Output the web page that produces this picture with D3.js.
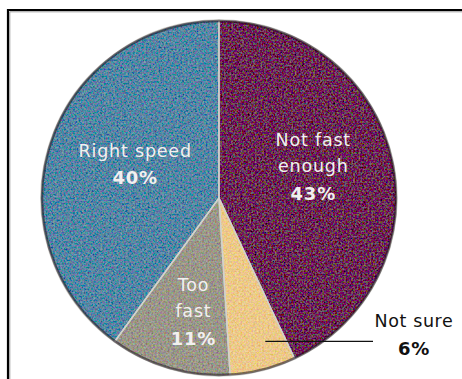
<!DOCTYPE html>
<html>
<head>
<meta charset="utf-8">
<script src="https://cdn.jsdelivr.net/npm/d3@7/dist/d3.min.js"></script>
<style>
  html, body { margin: 0; padding: 0; background: #fff; }
  svg { display: block; }
</style>
</head>
<body>
<svg id="chart" width="462" height="379"></svg>
<script>
// Survey answers, clockwise from 12 o'clock
const categories = ["Not fast enough", "Not sure", "Too fast", "Right speed"];
const values = [43, 6, 11, 40];
const labelLines = [["Not fast", "enough"], ["Not sure"], ["Too", "fast"], ["Right speed"]];
const sliceColors = ["#6e2a5a", "#ecc98a", "#9b978a", "#5886a4"];

const svg = d3.select("#chart");
const W = 462, H = 379;
const cx = 219, cy = 198, R = 178;

// Grain texture applied over the slice fills
const defs = svg.append("defs");
const grain = defs.append("filter").attr("id", "grain")
  .attr("x", 0).attr("y", 0).attr("width", 1).attr("height", 1);
grain.append("feTurbulence").attr("type", "fractalNoise")
  .attr("baseFrequency", 0.55).attr("numOctaves", 2).attr("seed", 7).attr("result", "noise");
grain.append("feColorMatrix").attr("in", "noise").attr("type", "matrix")
  .attr("values", "1 0 0 0 0  0 1 0 0 0  0 0 1 0 0  0 0 0 0 1").attr("result", "noiseRGB");
grain.append("feComposite").attr("in", "SourceGraphic").attr("in2", "noiseRGB")
  .attr("operator", "arithmetic").attr("k1", 0).attr("k2", 1).attr("k3", 0.55).attr("k4", -0.275)
  .attr("result", "mixed");
grain.append("feComposite").attr("in", "mixed").attr("in2", "SourceGraphic").attr("operator", "in");

// Frame along the top and left edges
const frame = svg.append("g");
frame.append("path").attr("d", `M8,${H} V10 H${W}`)
  .attr("fill", "none").attr("stroke", "#000").attr("stroke-width", 2.2);
frame.append("path").attr("d", `M9.8,${H} V11.8 H${W}`)
  .attr("fill", "none").attr("stroke", "#999").attr("stroke-width", 1);

const pie = d3.pie().sort(null).value(d => d)(values);
const arc = d3.arc().innerRadius(0).outerRadius(R);

const g = svg.append("g").attr("transform", `translate(${cx},${cy})`);

// Slices
g.append("g").attr("filter", "url(#grain)")
  .selectAll("path").data(pie).join("path")
  .attr("d", arc)
  .attr("fill", (d, i) => sliceColors[i]);

// Slice edges
g.append("g").selectAll("path").data(pie).join("path")
  .attr("d", arc)
  .attr("fill", "none")
  .attr("stroke", "#d2d2cc")
  .attr("stroke-width", 1.4)
  .attr("stroke-linejoin", "round");

// Darker rim around the disc
g.append("circle").attr("r", R - 1)
  .attr("fill", "none").attr("stroke", "rgba(30,20,30,0.55)").attr("stroke-width", 2.5);

// Inside labels: placed along each slice's mid-angle
const labelRadius = [0.56, 0, 0.65, 0.51];
const angleShift = [-0.11, 0, -0.06, 0.08];
const font = "'DejaVu Sans', Verdana, sans-serif";
const nameSize = 17.5, pctSize = 18;

pie.forEach((d, i) => {
  if (i === 1) return;
  const a = (d.startAngle + d.endAngle) / 2 + angleShift[i];
  const r = R * labelRadius[i];
  const x = Math.sin(a) * r, y = -Math.cos(a) * r;
  const lines = labelLines[i];
  const step = 25.5;
  const total = lines.length + 1;
  const y0 = y - (total - 1) * step / 2;
  const t = g.append("text").attr("text-anchor", "middle")
    .attr("font-family", font).attr("fill", "#f2f0f0")
    .attr("letter-spacing", 0.8);
  lines.forEach((ln, k) => {
    t.append("tspan").attr("x", x).attr("y", y0 + k * step)
      .attr("dy", "0.35em").attr("font-size", nameSize).text(ln);
  });
  t.append("tspan").attr("x", x).attr("y", y0 + lines.length * step + 2)
    .attr("dy", "0.35em").attr("font-size", pctSize).attr("font-weight", "bold")
    .text(values[i] + "%");
});

// Outside label for the small slice with a leader line
{
  const d = pie[1];
  const a = (d.startAngle + d.endAngle) / 2;
  const r = R * 0.82;
  const x0 = Math.sin(a) * r + 16, y0 = -Math.cos(a) * r;
  const lx = 373 - cx;
  g.append("line").attr("x1", x0 - 6).attr("y1", y0 + 2).attr("x2", lx).attr("y2", y0 + 2)
    .attr("stroke", "#111").attr("stroke-width", 1.4);
  const tx = 414 - cx;
  const t = g.append("text").attr("text-anchor", "middle")
    .attr("font-family", font).attr("fill", "#111").attr("letter-spacing", 0.6);
  t.append("tspan").attr("x", tx).attr("y", y0 - 18).attr("dy", "0.35em")
    .attr("font-size", nameSize).text(labelLines[1][0]);
  t.append("tspan").attr("x", tx).attr("y", y0 + 9).attr("dy", "0.35em")
    .attr("font-size", pctSize).attr("font-weight", "bold").text(values[1] + "%");
}
</script>
</body>
</html>
